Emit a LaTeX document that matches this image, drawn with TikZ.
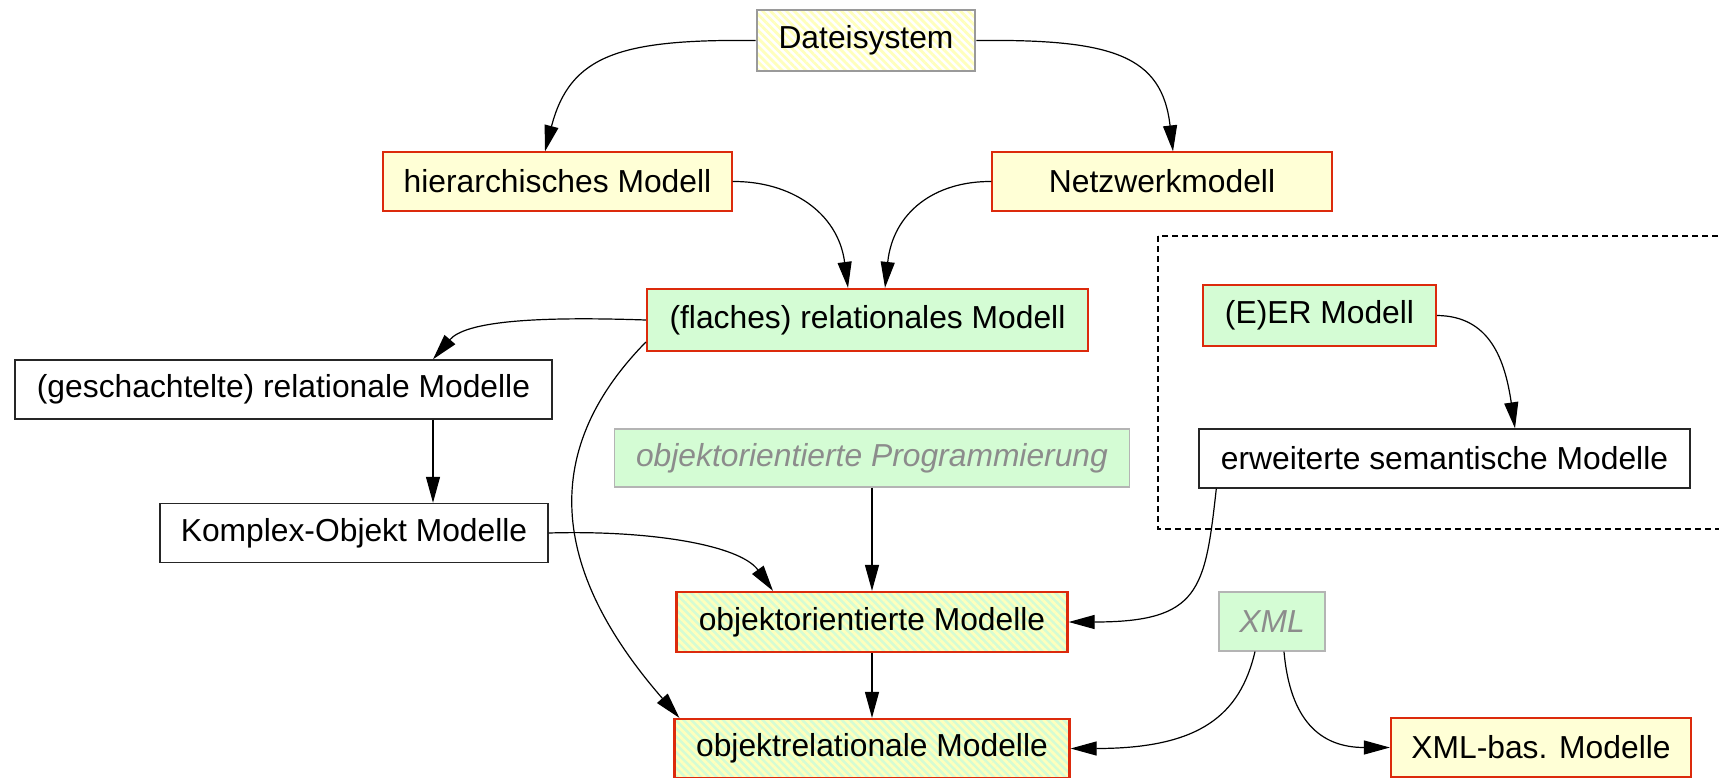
\documentclass[tikz,border=0pt]{standalone}
\usepackage{fontspec}
\setmainfont{Liberation Sans}
\usetikzlibrary{arrows.meta,patterns.meta}
\definecolor{paleyellow}{HTML}{FFFFD6}
\definecolor{stripeyellow}{HTML}{FFFFBC}
\definecolor{palegreen}{HTML}{D4FCD4}
\definecolor{boxred}{HTML}{DC2A0C}
\definecolor{boxgray}{HTML}{9A9A9A}
\definecolor{softgray}{HTML}{8C8C8C}
\definecolor{lightframe}{HTML}{B4B4B4}

\begin{document}
\begin{tikzpicture}[x=0.5pt,y=-0.5pt,
  box/.style={draw, rectangle, inner sep=0pt, text=black,
    font=\fontsize{15.9}{19}\selectfont},
  stripes/.style={pattern={Lines[angle=-45,distance=2.8pt,line width=1.4pt]},
    pattern color=stripeyellow},
  plainbox/.style={box, draw=black!85, line width=0.7pt, fill=white},
  yellowbox/.style={box, draw=boxred, line width=0.6pt, fill=paleyellow},
  yellowstrong/.style={box, draw=boxred, line width=1.1pt, fill=paleyellow},
  greenbox/.style={box, draw=boxred, line width=1.1pt, fill=palegreen},
  greenhatch/.style={box, draw=boxred, line width=1.1pt,
    preaction={fill=palegreen}, stripes},
  rootbox/.style={box, draw=boxgray, line width=1.4pt,
    preaction={fill=white}, stripes},
  ghostbox/.style={box, draw=lightframe, line width=0.6pt, fill=palegreen,
    text=softgray, font=\fontsize{15.9}{19}\selectfont\itshape},
  arr/.style={draw=black, line width=0.6pt,
    -{Triangle[length=13pt,width=7pt]}},
  groupframe/.style={draw=black, line width=0.6pt, dash pattern=on 3pt off 2pt}
]
\useasboundingbox (0,0) rectangle (1719,777);
\clip (0,0) rectangle (1719,777);

% dashed group around the ER branch
\path[groupframe] (1158,236) rectangle (1740,529);

% nodes
\node[rootbox, minimum width=109pt, minimum height=30.5pt] (ds) at (866,40.5) {Dateisystem};
\node[yellowbox, minimum width=174.5pt, minimum height=29.5pt] (hier) at (557.5,181.5) {hierarchisches Modell};
\node[yellowbox, minimum width=170pt, minimum height=29.5pt] (netz) at (1162,181.5) {Netzwerkmodell};
\node[greenbox, minimum width=220.5pt, minimum height=31pt] (flach) at (867.5,320) {(flaches) relationales Modell};
\node[plainbox, minimum width=268.5pt, minimum height=29.5pt] (gesch) at (283.5,389.5) {(geschachtelte) relationale Modelle};
\node[ghostbox, minimum width=257.5pt, minimum height=29pt] (prog) at (872,458) {objektorientierte Programmierung};
\node[plainbox, minimum width=194pt, minimum height=29.5pt] (komplex) at (354,533) {Komplex-Objekt Modelle};
\node[greenhatch, minimum width=195.5pt, minimum height=30pt] (objori) at (872,622) {objektorientierte Modelle};
\node[greenhatch, minimum width=197.5pt, minimum height=29.5pt] (objrel) at (872,748.5) {objektrelationale Modelle};
\node[greenbox, minimum width=116.5pt, minimum height=30.5pt] (er) at (1319.5,315.5) {(E)ER Modell};
\node[plainbox, minimum width=245.5pt, minimum height=29.5pt] (erw) at (1444.5,458.5) {erweiterte semantische Modelle};
\node[ghostbox, minimum width=53pt, minimum height=29.5pt] (xml) at (1272,621.5) {XML};
\node[yellowstrong, minimum width=150pt, minimum height=29.5pt] (xmlbas) at (1541,747.5) {XML-bas. Modelle};

% connectors
\draw[arr] (ds.west) .. controls (620,39) and (570,55) .. ([xshift=-6.25pt]hier.north);
\draw[arr] (ds.east) .. controls (1112,39) and (1162,55) .. ([xshift=5.5pt]netz.north);
\draw[arr] (hier.east) .. controls (790,181) and (838,212) .. ([xshift=-9.75pt]flach.north);
\draw[arr] (netz.west) .. controls (935,181) and (893,212) .. ([xshift=8.75pt]flach.north);
\draw[arr] (flach.west) .. controls (530,316) and (465,322) .. ([xshift=74.75pt]gesch.north);
\draw[arr] ([yshift=-11pt]flach.west) .. controls (535,455) and (555,575) .. ([xshift=3pt]objrel.north west);
\draw[arr] ([xshift=74.75pt]gesch.south) -- ([xshift=39.5pt]komplex.north);
\draw[arr] (komplex.east) .. controls (650,530) and (740,545) .. ([xshift=-49.5pt]objori.north);
\draw[arr] (prog.south) -- (objori.north);
\draw[arr] ([xshift=9pt]erw.south west) .. controls (1205,590) and (1200,622) .. (objori.east);
\draw[arr] (objori.south) -- (objrel.north);
\draw[arr] ([xshift=-8.5pt]xml.south) .. controls (1240,715) and (1200,748.5) .. (objrel.east);
\draw[arr] ([xshift=6pt]xml.south) .. controls (1290,720) and (1320,747.5) .. (xmlbas.west);
\draw[arr] (er.east) .. controls (1490,316) and (1505,360) .. ([xshift=35.25pt]erw.north);
\end{tikzpicture}
\end{document}
